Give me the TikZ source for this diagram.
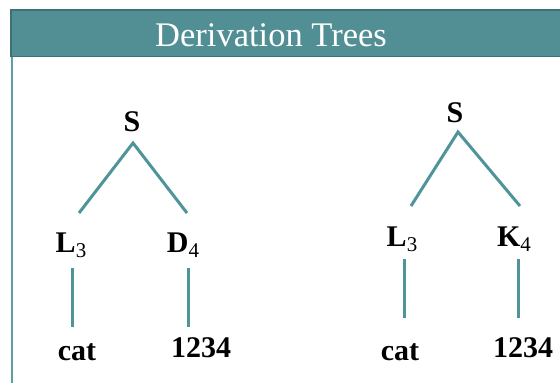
\documentclass[tikz,border=0pt]{standalone}
\usepackage{fontspec}
\setmainfont{Liberation Serif}
\definecolor{barfill}{HTML}{518F94}
\definecolor{baredge}{HTML}{3E7176}
\definecolor{treeline}{HTML}{4E9499}
\definecolor{sideline}{HTML}{5E9EA2}
% lowered subscript in a regular face
\newcommand{\lowsub}[1]{\raisebox{-5pt}{\fontsize{21}{21}\selectfont\mdseries #1}}
\begin{document}
\begin{tikzpicture}[x=1pt,y=-1pt,
  lbl/.style={font=\fontsize{30}{30}\selectfont\bfseries, inner sep=0pt},
  edge/.style={draw=treeline, line width=3pt}]
  \useasboundingbox (0,0) rectangle (560,383);
  % header bar and side rule
  \fill[barfill] (10,9) rectangle (562,57);
  \draw[baredge, line width=1.5pt] (562,9.75) -- (10.75,9.75) -- (10.75,56.25) -- (562,56.25);
  \draw[sideline, line width=2pt] (12,57) -- (12,384);
  \node[text=white, font=\fontsize{34.5}{34.5}\selectfont, inner sep=0pt] (title) at (271,35) {Derivation Trees};

  % left tree
  \node[lbl] (s1) at (132,122) {S};
  \node[lbl] (l1) at (71,245) {L\lowsub{3}};
  \node[lbl] (d1) at (183,245) {D\lowsub{4}};
  \node[lbl] (c1) at (77,352) {cat};
  \node[lbl] (n1) at (201,348) {1234};
  \coordinate (a1) at (133,143);
  \coordinate (e1l) at (79,213);
  \coordinate (e1r) at (187,213);
  \coordinate (v1a) at (72,268);
  \coordinate (v1b) at (72,327);
  \coordinate (v1c) at (188,268);
  \coordinate (v1d) at (188,327);
  \draw[edge] (e1l) -- (a1) -- (e1r);
  \draw[edge] (v1a) -- (v1b);
  \draw[edge] (v1c) -- (v1d);

  % right tree
  \node[lbl] (s2) at (455,113) {S};
  \node[lbl] (l2) at (402,239) {L\lowsub{3}};
  \node[lbl] (k2) at (514,239) {K\lowsub{4}};
  \node[lbl] (c2) at (400,352) {cat};
  \node[lbl] (n2) at (523,348) {1234};
  \coordinate (a2) at (458,132);
  \coordinate (e2l) at (411,206);
  \coordinate (e2r) at (520,206);
  \coordinate (v2a) at (404,259);
  \coordinate (v2b) at (404,318);
  \coordinate (v2c) at (518,259);
  \coordinate (v2d) at (518,318);
  \draw[edge] (e2l) -- (a2) -- (e2r);
  \draw[edge] (v2a) -- (v2b);
  \draw[edge] (v2c) -- (v2d);
\end{tikzpicture}
\end{document}
